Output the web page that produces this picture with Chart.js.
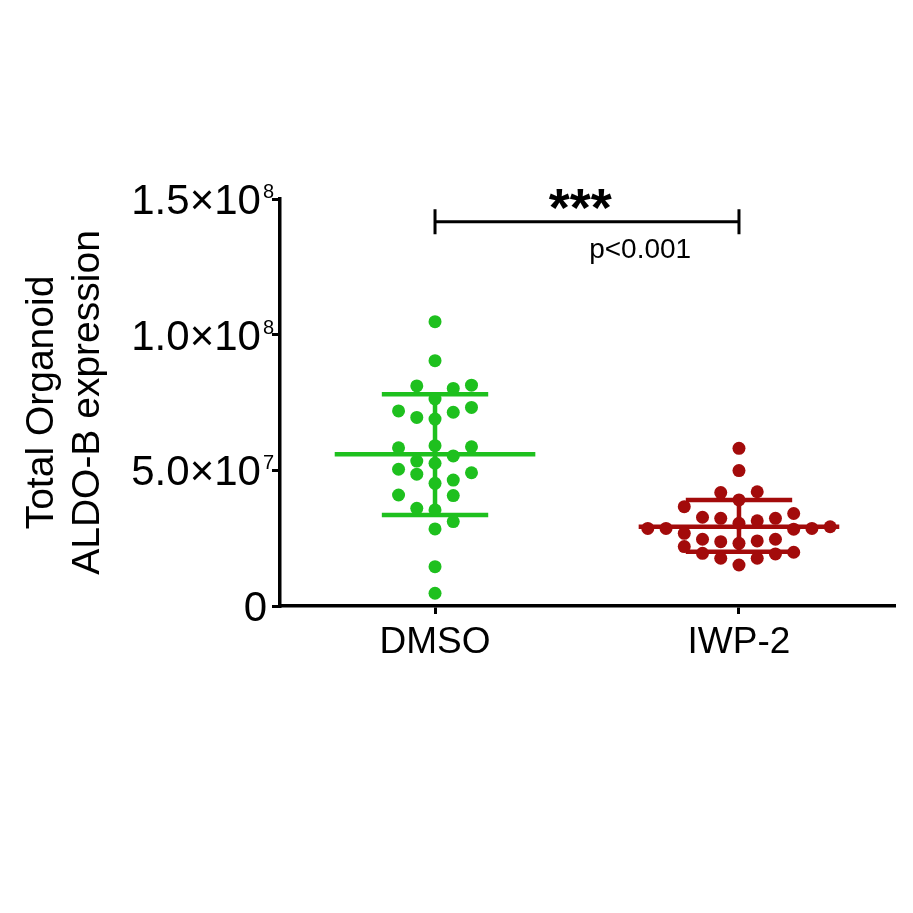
<!DOCTYPE html>
<html>
<head>
<meta charset="utf-8">
<script src="https://cdn.jsdelivr.net/npm/chart.js@4.4.1/dist/chart.umd.min.js"></script>
<style>
  html,body{margin:0;padding:0;background:#fff;}
  #wrap{width:913px;height:913px;}
</style>
</head>
<body>
<div id="wrap"><canvas id="chart" width="913" height="913"></canvas></div>
<script>
// groups on the x axis
const groups = ['DMSO', 'IWP-2'];

// DMSO values and their column slot in the scatter
const dmsoValues = [10.48e7, 9.04e7, 8.11e7, 8.02e7, 8.14e7, 7.63e7, 7.19e7, 6.95e7, 6.89e7, 7.14e7,
  7.32e7, 5.83e7, 5.91e7, 5.87e7, 5.34e7, 5.53e7, 5.26e7, 5.04e7, 4.86e7, 4.91e7,
  4.64e7, 4.52e7, 4.09e7, 4.07e7, 3.60e7, 3.54e7, 3.11e7, 2.84e7, 1.45e7, 0.47e7];
const dmsoSlots = [0, 0, -1, 1, 2, 0, -2, -1, 0, 1,
  2, -2, 0, 2, -1, 1, 0, -2, -1, 2,
  1, 0, -2, 1, -1, 0, 1, 0, 0, 0];

// IWP-2 values and their column slot
const iwpValues = [5.81e7, 4.99e7, 4.18e7, 4.21e7, 3.91e7, 3.66e7, 3.41e7, 3.27e7, 3.23e7, 3.14e7,
  3.23e7, 3.05e7, 2.86e7, 2.86e7, 2.68e7, 2.83e7, 2.86e7, 2.92e7, 2.46e7, 2.37e7,
  2.31e7, 2.40e7, 2.46e7, 2.19e7, 1.94e7, 1.76e7, 1.76e7, 1.92e7, 1.98e7, 1.51e7];
const iwpSlots = [0, 0, -1, 1, 0, -3, 3, -2, -1, 1,
  2, 0, -5, -4, -3, 3, 4, 5, -2, -1,
  0, 1, 2, -3, -2, -1, 1, 2, 3, 0];

// mean and mean +/- SD
const means = [5.59e7, 2.92e7];
const sdUpper = [7.80e7, 3.91e7];
const sdLower = [3.35e7, 2.00e7];

// significance bracket
const sigLevel = 1.416e8;
const sigStars = '***';
const sigText = 'p<0.001';

// y ticks: mantissa part and exponent part
const yTicks = [0, 5e7, 1e8, 1.5e8];
const yTickMain = ['0', '5.0\u00d710', '1.0\u00d710', '1.5\u00d710'];
const yTickExp = ['', '7', '8', '8'];

const colorsG = ['#1ec01e', '#a30b0b'];
const FONT = "'Liberation Sans', Arial, sans-serif";
const slotW = 0.06;

function points(vals, slots, gx){
  return vals.map((v,i)=>({x: gx + slots[i]*slotW, y: v}));
}

function meanSd(i){
  const gx = i+1;
  return [
    {x: gx-0.33, y: means[i]}, {x: gx+0.33, y: means[i]}, {x: NaN, y: NaN},
    {x: gx-0.175, y: sdUpper[i]}, {x: gx+0.175, y: sdUpper[i]}, {x: NaN, y: NaN},
    {x: gx-0.175, y: sdLower[i]}, {x: gx+0.175, y: sdLower[i]}, {x: NaN, y: NaN},
    {x: gx, y: sdLower[i]}, {x: gx, y: sdUpper[i]}
  ];
}

const capH = 0.046e8;
const bracket = [
  {x:1, y:sigLevel+capH}, {x:1, y:sigLevel-capH}, {x:1, y:sigLevel},
  {x:2, y:sigLevel}, {x:2, y:sigLevel+capH}, {x:2, y:sigLevel-capH}
];

function lineSet(data, color, w){
  return {type:'line', data, borderColor:color, borderWidth:w, pointRadius:0,
    fill:false, tension:0, spanGaps:false, clip:false, showLine:true};
}

// stars + p-value, and y tick labels with raised exponents
const textPlugin = {
  id:'texts',
  afterDraw(chart){
    const {ctx, scales:{x, y}} = chart;
    const yy = y.getPixelForValue(sigLevel);
    ctx.save();
    ctx.fillStyle = '#000';
    ctx.textAlign = 'center';
    ctx.textBaseline = 'alphabetic';
    ctx.font = 'bold 54px ' + FONT;
    ctx.fillText(sigStars, x.getPixelForValue(1.478), yy + 4);
    ctx.font = '28px ' + FONT;
    ctx.fillText(sigText, x.getPixelForValue(1.675), yy + 36);

    const right = y.left + y.width - 6;
    ctx.textAlign = 'right';
    yTicks.forEach((v,i)=>{
      const py = y.getPixelForValue(v);
      const base = py + 15;
      let xr = right;
      if(yTickExp[i]){
        ctx.font = '20px ' + FONT;
        ctx.fillText(yTickExp[i], xr, base - 16);
        xr -= ctx.measureText(yTickExp[i]).width + 2;
      } else {
        xr -= 7;
      }
      ctx.font = '42px ' + FONT;
      ctx.fillText(yTickMain[i], xr, base);
    });
    ctx.restore();
  }
};

new Chart(document.getElementById('chart'), {
  type:'scatter',
  data:{
    datasets:[
      {data:points(dmsoValues, dmsoSlots, 1), backgroundColor:colorsG[0], borderWidth:0, pointRadius:6.5, clip:false},
      {data:points(iwpValues, iwpSlots, 2), backgroundColor:colorsG[1], borderWidth:0, pointRadius:6.5, clip:false},
      lineSet(meanSd(0), colorsG[0], 4.5),
      lineSet(meanSd(1), colorsG[1], 4.5),
      lineSet(bracket, '#000', 3)
    ]
  },
  options:{
    responsive:false,
    animation:false,
    devicePixelRatio:1,
    layout:{padding:{top:199, right:19, bottom:207, left:19}},
    plugins:{legend:{display:false}, tooltip:{enabled:false}},
    scales:{
      x:{
        type:'linear', min:0.49, max:2.51,
        afterBuildTicks(s){ s.ticks = [{value:1},{value:2}]; },
        afterFit(s){ s.height = 100; },
        ticks:{color:'#000', font:{family:FONT, size:37}, padding:7, maxRotation:0,
          callback:v => groups[v-1]},
        grid:{drawOnChartArea:false, color:'#000', lineWidth:3, tickLength:8},
        border:{color:'#000', width:3.5}
      },
      y:{
        min:0, max:1.5e8,
        afterBuildTicks(s){ s.ticks = yTicks.map(v=>({value:v})); },
        afterFit(s){ s.width = 280 - 19; },
        ticks:{display:false},
        grid:{drawOnChartArea:false, color:'#000', lineWidth:3, tickLength:8},
        border:{color:'#000', width:3.5},
        title:{display:true, text:['Total Organoid','ALDO-B expression'], color:'#000',
          font:{family:FONT, size:39, lineHeight:1.18}, padding:{top:0, bottom:0}}
      }
    }
  },
  plugins:[textPlugin]
});
</script>
</body>
</html>
